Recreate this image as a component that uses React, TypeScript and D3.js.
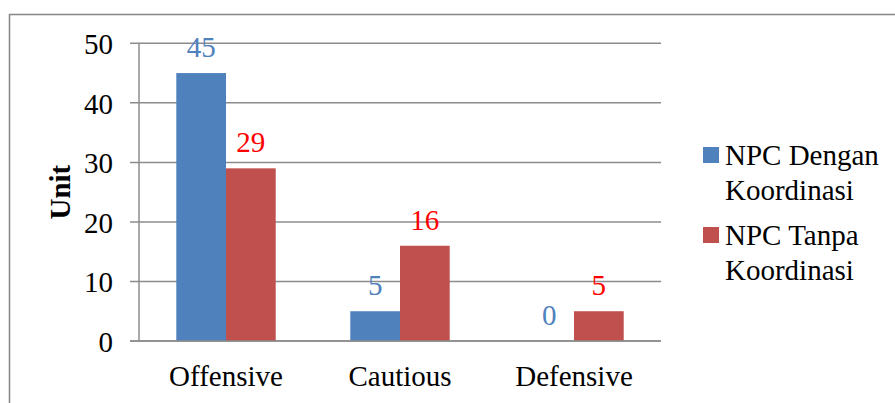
import React from "react";
import * as d3 from "d3";

const categories = ["Offensive", "Cautious", "Defensive"];
const seriesNames = ["NPC Dengan Koordinasi", "NPC Tanpa Koordinasi"];
const legendLines = [["NPC Dengan", "Koordinasi"], ["NPC Tanpa", "Koordinasi"]];
const dengan = [45, 5, 0];
const tanpa = [29, 16, 5];
const yTicks = [0, 10, 20, 30, 40, 50];

const barColors = ["#4F81BD", "#C0504D"];
const labelColors = ["#4F81BD", "#FF0000"];
const FONT = "Liberation Serif, Times New Roman, Times, serif";
const ts: React.CSSProperties = { fontFamily: FONT, fontSize: "29px" };

export default function App() {
  const W = 895, H = 403;
  const left = 139, right = 661, top = 43.3, bottom = 341;
  const x0 = d3.scaleBand().domain(categories).range([left, right]).paddingInner(0.4286).paddingOuter(0.2143);
  const x1 = d3.scaleBand().domain(seriesNames).range([0, x0.bandwidth()]);
  const y = d3.scaleLinear().domain([0, 50]).range([bottom, top]);
  const series = [dengan, tanpa];

  return (
    <svg width={W} height={H} style={{ position: "absolute", left: 0, top: 0, background: "#fff" }}>
      <rect x={9.5} y={14.5} width={W + 10} height={H + 10} fill="none" stroke="#868686" strokeWidth={1.5} />
      {yTicks.map((t) => (
        <g key={t}>
          <line x1={130} x2={right} y1={y(t)} y2={y(t)} stroke="#8c8c8c" strokeWidth={1.5} />
          <text x={113} y={y(t) + 11} textAnchor="end" style={ts} fill="#000">{t}</text>
        </g>
      ))}
      <line x1={left} x2={left} y1={top} y2={bottom} stroke="#8c8c8c" strokeWidth={1.5} />
      {series.map((vals, si) =>
        vals.map((v, ci) => {
          const bx = (x0(categories[ci]) as number) + (x1(seriesNames[si]) as number);
          const bw = x1.bandwidth();
          return (
            <g key={`${si}-${ci}`}>
              {v > 0 && <rect x={bx} y={y(v)} width={bw} height={y(0) - y(v)} fill={barColors[si]} />}
              <text x={bx + bw / 2} y={y(v) - 16} textAnchor="middle" style={ts} fill={labelColors[si]}>{v}</text>
            </g>
          );
        })
      )}
      <line x1={130} x2={right} y1={y(0)} y2={y(0)} stroke="#8c8c8c" strokeWidth={1.5} />
      {categories.map((c) => (
        <text key={c} x={(x0(c) as number) + x0.bandwidth() / 2} y={386} textAnchor="middle" style={ts} fill="#000">{c}</text>
      ))}
      <text transform={`translate(70,${(top + bottom) / 2}) rotate(-90)`} textAnchor="middle" style={{ ...ts, fontWeight: "bold" }} fill="#000">Unit</text>
      {legendLines.map((lines, i) => {
        const sy = 147 + i * 80;
        return (
          <g key={i}>
            <rect x={703} y={sy} width={16} height={16} fill={barColors[i]} />
            {lines.map((ln, j) => (
              <text key={j} x={725} y={sy + 18 + j * 35} style={ts} fill="#000">{ln}</text>
            ))}
          </g>
        );
      })}
    </svg>
  );
}
